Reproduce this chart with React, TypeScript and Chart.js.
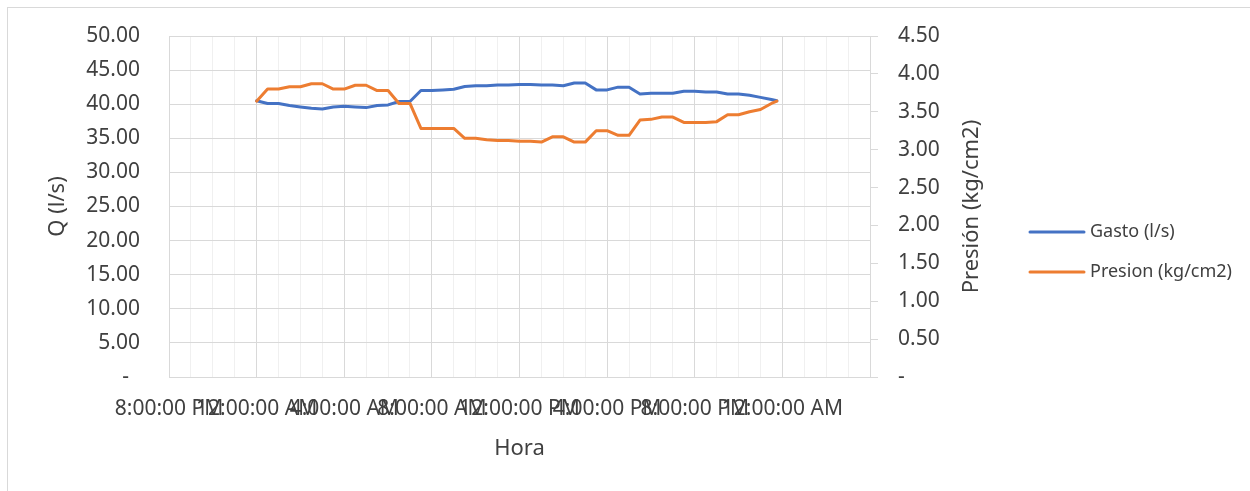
import React, { useEffect, useRef } from "react";
import { Chart, registerables } from "chart.js";

Chart.register(...registerables);

const timeLabels = [
  "0:00", "0:30", "1:00", "1:30", "2:00", "2:30", "3:00", "3:30", "4:00", "4:30",
  "5:00", "5:30", "6:00", "6:30", "7:00", "7:30", "8:00", "8:30", "9:00", "9:30",
  "10:00", "10:30", "11:00", "11:30", "12:00", "12:30", "13:00", "13:30", "14:00", "14:30",
  "15:00", "15:30", "16:00", "16:30", "17:00", "17:30", "18:00", "18:30", "19:00", "19:30",
  "20:00", "20:30", "21:00", "21:30", "22:00", "22:30", "23:00", "23:30", "23:45",
];

const gastoValues = [
  40.5, 40.1, 40.1, 39.8, 39.6, 39.4, 39.3, 39.6, 39.7, 39.6,
  39.5, 39.8, 39.9, 40.4, 40.4, 42.0, 42.0, 42.1, 42.2, 42.6,
  42.7, 42.7, 42.8, 42.8, 42.9, 42.9, 42.8, 42.8, 42.7, 43.1,
  43.1, 42.1, 42.1, 42.5, 42.5, 41.5, 41.6, 41.6, 41.6, 41.9,
  41.9, 41.8, 41.8, 41.5, 41.5, 41.3, 41.0, 40.7, 40.5,
];

const presionValues = [
  3.64, 3.80, 3.80, 3.83, 3.83, 3.87, 3.87, 3.80, 3.80, 3.85,
  3.85, 3.78, 3.78, 3.61, 3.61, 3.28, 3.28, 3.28, 3.28, 3.15,
  3.15, 3.13, 3.12, 3.12, 3.11, 3.11, 3.10, 3.17, 3.17, 3.10,
  3.10, 3.25, 3.25, 3.19, 3.19, 3.39, 3.40, 3.43, 3.43, 3.36,
  3.36, 3.36, 3.37, 3.46, 3.46, 3.50, 3.53, 3.61, 3.64,
];

// x axis: hours relative to the first midnight; -4 = 8:00 PM of the previous day
const xMin = -4;
const xMax = 28;
const xMajorStep = 4;
const xTickLabels = [
  "8:00:00 PM", "12:00:00 AM", "4:00:00 AM", "8:00:00 AM", "12:00:00 PM",
  "4:00:00 PM", "8:00:00 PM", "12:00:00 AM", "",
];

const seriesNames = ["Gasto (l/s)", "Presion (kg/cm2)"];
const seriesColors = ["#4472C4", "#ED7D31"];
const leftTitle = "Q (l/s)";
const rightTitle = "Presión (kg/cm2)";
const xTitle = "Hora";

const FONT = '"Noto Sans", "Open Sans", sans-serif';
const TEXT = "#404040";
const GRID = "#d9d9d9";
const GRID_MINOR = "#f0f0f0";

function toHours(t: string): number {
  const [h, m] = t.split(":").map(Number);
  return h + m / 60;
}

const rightTitlePlugin = {
  id: "rightTitle",
  afterDraw(chart: any) {
    const { ctx, chartArea } = chart;
    const s = chart.scales.y1;
    ctx.save();
    ctx.translate(s.left + 102, (chartArea.top + chartArea.bottom) / 2);
    ctx.rotate(-Math.PI / 2);
    ctx.font = `22px ${FONT}`;
    ctx.fillStyle = TEXT;
    ctx.textAlign = "center";
    ctx.textBaseline = "middle";
    ctx.fillText(rightTitle, 0, 0);
    ctx.restore();
  },
};

const sideLegendPlugin = {
  id: "sideLegend",
  afterDraw(chart: any) {
    const { ctx } = chart;
    const s = chart.scales.y1;
    const x0 = s.right + 22;
    const lineW = 54;
    const rowGap = 40;
    const midY = 252;
    const n = chart.data.datasets.length;
    ctx.save();
    ctx.font = `18px ${FONT}`;
    ctx.textAlign = "left";
    ctx.textBaseline = "middle";
    chart.data.datasets.forEach((ds: any, i: number) => {
      const y = midY + (i - (n - 1) / 2) * rowGap;
      ctx.strokeStyle = ds.borderColor;
      ctx.lineWidth = 3;
      ctx.lineCap = "round";
      ctx.beginPath();
      ctx.moveTo(x0, y);
      ctx.lineTo(x0 + lineW, y);
      ctx.stroke();
      ctx.fillStyle = TEXT;
      ctx.fillText(ds.label, x0 + lineW + 6, y);
    });
    ctx.restore();
  },
};

export default function App() {
  const ref = useRef<HTMLCanvasElement>(null);

  useEffect(() => {
    if (!ref.current) return;
    const pts = (vals: number[]) =>
      timeLabels.map((t, i) => ({ x: toHours(t), y: vals[i] }));

    const chart = new Chart(ref.current, {
      type: "line",
      data: {
        datasets: [
          {
            label: seriesNames[0],
            data: pts(gastoValues),
            borderColor: seriesColors[0],
            backgroundColor: seriesColors[0],
            borderWidth: 3,
            pointRadius: 0,
            tension: 0,
            borderJoinStyle: "round",
            borderCapStyle: "round",
            yAxisID: "y",
            order: 2,
          },
          {
            label: seriesNames[1],
            data: pts(presionValues),
            borderColor: seriesColors[1],
            backgroundColor: seriesColors[1],
            borderWidth: 3,
            pointRadius: 0,
            tension: 0,
            borderJoinStyle: "round",
            borderCapStyle: "round",
            yAxisID: "y1",
            order: 1,
          },
        ],
      } as any,
      options: {
        animation: false,
        responsive: false,
        devicePixelRatio: 1,
        events: [],
        layout: { padding: { top: 36, right: 242, bottom: 23, left: 0 } },
        plugins: {
          tooltip: { enabled: false },
          legend: { display: false },
        },
        scales: {
          x: {
            type: "linear",
            min: xMin,
            max: xMax,
            ticks: {
              stepSize: 1,
              autoSkip: false,
              maxRotation: 0,
              minRotation: 0,
              padding: 19,
              color: TEXT,
              font: { family: FONT, size: 21 },
              callback: (v: any) => {
                const n = Math.round(Number(v) - xMin);
                return n % xMajorStep === 0 ? xTickLabels[n / xMajorStep] ?? "" : "";
              },
            },
            grid: {
              drawTicks: false,
              lineWidth: 1,
              color: (c: any) => {
                const val = c.tick ? Math.round(c.tick.value - xMin) : 0;
                return val % xMajorStep === 0 ? GRID : GRID_MINOR;
              },
            },
            border: { display: true, color: GRID },
            title: {
              display: true,
              text: xTitle,
              color: TEXT,
              font: { family: FONT, size: 22 },
              padding: { top: 0, bottom: 6 },
            },
            afterFit: (s: any) => {
              s.height = 91;
            },
          },
          y: {
            position: "left",
            min: 0,
            max: 50,
            ticks: {
              stepSize: 5,
              padding: 29,
              color: TEXT,
              font: { family: FONT, size: 21 },
              callback: (v: any) => (Number(v) === 0 ? "-  " : Number(v).toFixed(2)),
            },
            grid: { color: GRID, drawTicks: false, lineWidth: 1 },
            border: { display: false },
            title: {
              display: true,
              text: leftTitle,
              color: TEXT,
              font: { family: FONT, size: 22 },
              padding: { top: 45, bottom: 0 },
            },
            afterFit: (s: any) => {
              s.width = 169;
              s.paddingTop = 0;
              s.paddingBottom = 0;
            },
          },
          y1: {
            position: "right",
            min: 0,
            max: 4.5,
            ticks: {
              stepSize: 0.5,
              padding: 20,
              color: TEXT,
              font: { family: FONT, size: 21 },
              callback: (v: any) => (Number(v) === 0 ? "-" : Number(v).toFixed(2)),
            },
            grid: {
              drawOnChartArea: false,
              drawTicks: true,
              tickLength: 8,
              color: GRID,
              lineWidth: 1,
            },
            border: { display: true, color: GRID },
            title: { display: false },
            afterFit: (s: any) => {
              s.width = 138;
              s.paddingTop = 0;
              s.paddingBottom = 0;
            },
          },
        },
      } as any,
      plugins: [rightTitlePlugin, sideLegendPlugin],
    });

    return () => chart.destroy();
  }, []);

  return (
    <div
      style={{
        position: "fixed",
        left: 0,
        top: 0,
        width: 1250,
        height: 491,
        overflow: "hidden",
        background: "#ffffff",
      }}
    >
      <canvas
        ref={ref}
        width={1250}
        height={491}
        style={{ position: "absolute", left: 0, top: 0, width: 1250, height: 491 }}
      />
      <div
        style={{
          position: "absolute",
          left: 7,
          top: 7,
          width: 1300,
          height: 600,
          border: `1px solid ${GRID}`,
          pointerEvents: "none",
        }}
      />
    </div>
  );
}
